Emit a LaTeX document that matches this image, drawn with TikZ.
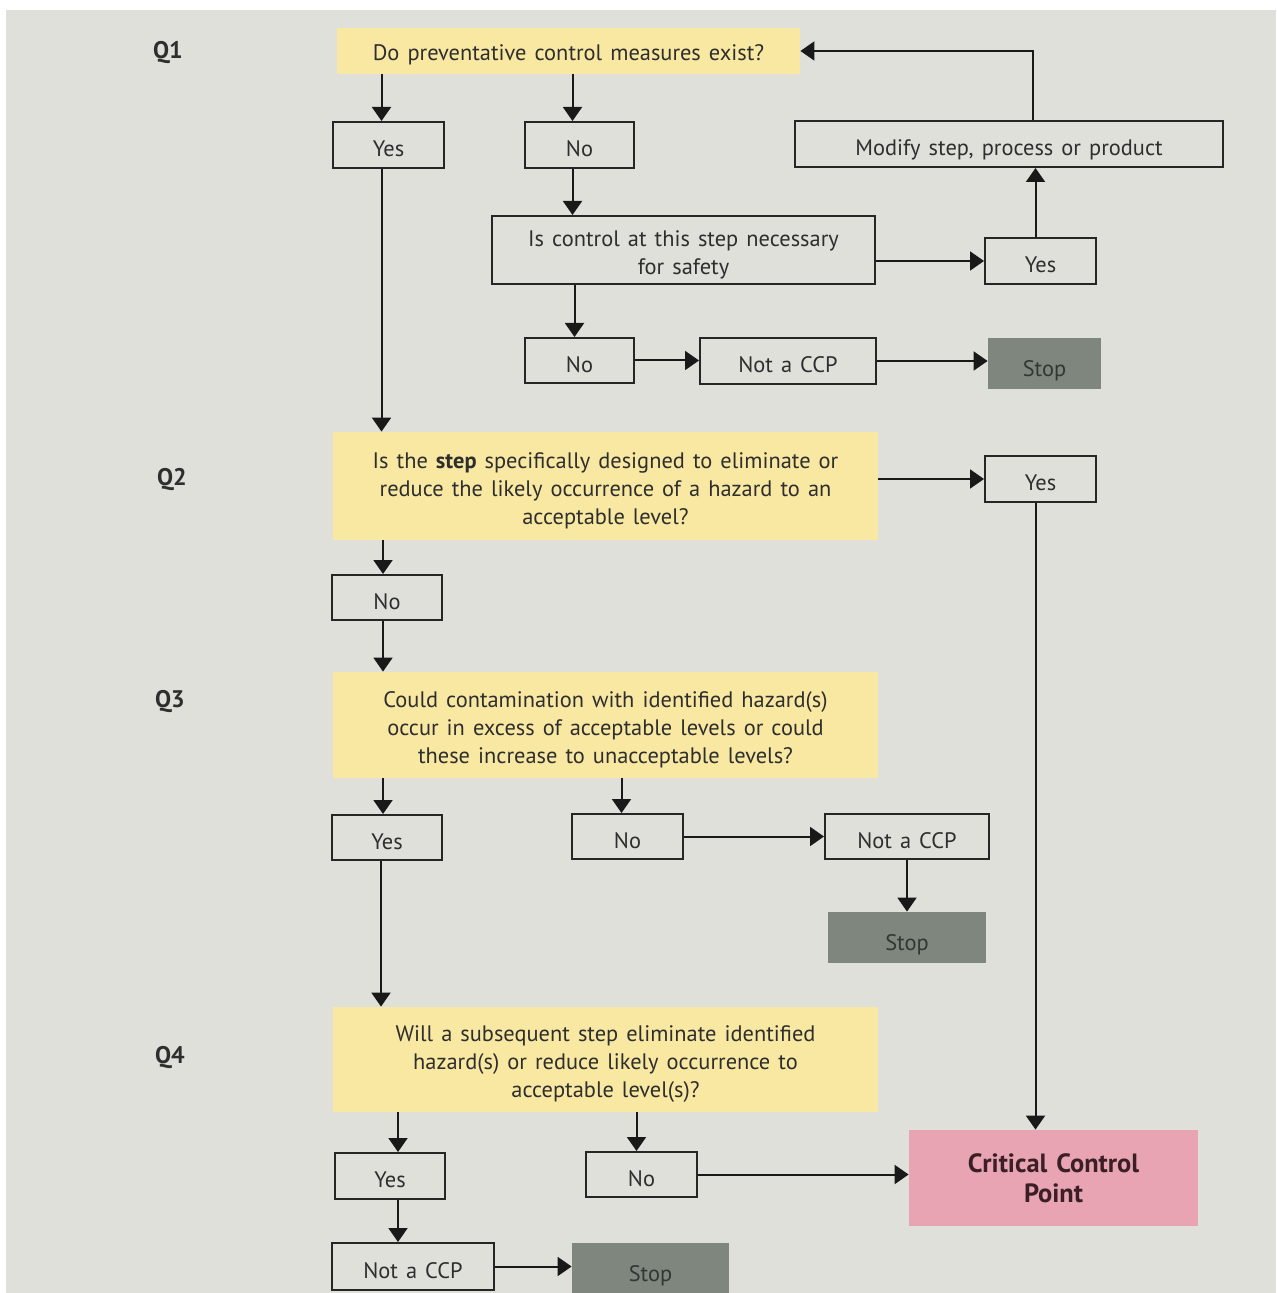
\documentclass[tikz,border=0pt]{standalone}
\usepackage{fontspec}
\setmainfont{PT Sans}[WordSpace=1.35]
\usetikzlibrary{arrows.meta}
\definecolor{bgray}{HTML}{E0E0DB}
\definecolor{qyellow}{HTML}{F8E8A2}
\definecolor{stopgray}{HTML}{7E867E}
\definecolor{ccppink}{HTML}{E8A4B2}
\definecolor{ink}{HTML}{2E2E2E}
\definecolor{stopink}{HTML}{313833}
\definecolor{ccpink}{HTML}{3B1F27}
\tikzset{
  bodyfont/.style={font=\fontsize{11.2}{14}\selectfont},
  % single-line text sits slightly below the box centre
  lowtext/.style={text height=11.6pt, text depth=0pt},
  question/.style={fill=qyellow, draw=none, inner sep=0pt},
  qtext/.style={align=center, inner sep=0pt, bodyfont, text=ink, yshift=-2.5pt},
  answer/.style={draw=black!85, line width=1pt, fill=none, align=center, inner sep=0pt,
    bodyfont, text=ink, lowtext},
  stopbox/.style={fill=stopgray, draw=none, inner sep=0pt, bodyfont, text=stopink,
    text height=13.4pt, text depth=0pt},
  ccpbox/.style={fill=ccppink, draw=none, align=center, inner sep=0pt,
    font=\bfseries\fontsize{13.2}{15}\selectfont, text=ccpink},
  qlabel/.style={font=\bfseries\fontsize{12}{14}\selectfont, text=ink},
  arr/.style={line width=1pt, draw=black!90, -{Triangle[length=7pt,width=9.5pt]}},
}
\begin{document}
\begin{tikzpicture}[x=0.5pt,y=-0.5pt]
  \useasboundingbox (0,0) rectangle (1276,1293);
  \fill[white] (0,0) rectangle (1276,1293);
  \fill[bgray] (6,10) rectangle (1276,1293);

  % question labels
  \node[qlabel] (l1) at (168,53) {Q1};
  \node[qlabel] (l2) at (172,480) {Q2};
  \node[qlabel] (l3) at (170,702) {Q3};
  \node[qlabel] (l4) at (170,1058) {Q4};

  % Q1 branch
  \node[question, minimum width=231.5pt, minimum height=23pt,
        label={[qtext, yshift=0.5pt]center:Do preventative control measures exist?}]
        (q1) at (568.5,51) {};
  \node[answer, minimum width=55.5pt, minimum height=23pt] (yes1) at (388.5,145) {Yes};
  \node[answer, minimum width=54.5pt, minimum height=23pt] (no1) at (579.5,145) {No};
  \node[answer, minimum width=214pt, minimum height=23pt] (modify) at (1009,144)
    {Modify step, process or product};
  \node[draw=black!85, line width=1pt, inner sep=0pt, minimum width=191.5pt, minimum height=34pt,
        label={[qtext]center:Is control at this step necessary\\for safety}]
        (ctrl) at (683.5,250) {};
  \node[answer, minimum width=55.5pt, minimum height=23pt] (yes2) at (1040.5,261) {Yes};
  \node[answer, minimum width=54.5pt, minimum height=22.5pt] (no2) at (579.5,360.5) {No};
  \node[answer, minimum width=88pt, minimum height=23pt] (nccp1) at (788,361) {Not a CCP};
  \node[stopbox, minimum width=56.5pt, minimum height=25.5pt] (stop1) at (1044.5,363.5) {Stop};

  % Q2 branch
  \node[question, minimum width=272.5pt, minimum height=54pt,
        label={[qtext]center:Is the \textbf{step} specifically designed to eliminate or\\
          reduce the likely occurrence of a hazard to an\\acceptable level?}]
        (q2) at (605.5,486) {};
  \node[answer, minimum width=55.5pt, minimum height=23pt] (yes3) at (1040.5,479) {Yes};
  \node[answer, minimum width=55pt, minimum height=22.5pt] (no3) at (387,597.5) {No};

  % Q3 branch
  \node[question, minimum width=272.5pt, minimum height=53pt,
        label={[qtext]center:Could contamination with identified hazard(s)\\
          occur in excess of acceptable levels or could\\these increase to unacceptable levels?}]
        (q3) at (605.5,725) {};
  \node[answer, minimum width=55pt, minimum height=22.5pt] (yes4) at (387,837.5) {Yes};
  \node[answer, minimum width=55.5pt, minimum height=22.5pt] (no4) at (627.5,836.5) {No};
  \node[answer, minimum width=82pt, minimum height=22.5pt] (nccp2) at (907,836.5) {Not a CCP};
  \node[stopbox, minimum width=79pt, minimum height=25.5pt] (stop2) at (907,937.5) {Stop};

  % Q4 branch
  \node[question, minimum width=272.5pt, minimum height=52.5pt,
        label={[qtext]center:Will a subsequent step eliminate identified\\
          hazard(s) or reduce likely occurrence to\\acceptable level(s)?}]
        (q4) at (605.5,1059.5) {};
  \node[answer, minimum width=55pt, minimum height=23pt] (yes5) at (390,1176) {Yes};
  \node[answer, minimum width=55.5pt, minimum height=22.5pt] (no5) at (641.5,1174.5) {No};
  \node[answer, minimum width=81pt, minimum height=23.5pt] (nccp3) at (413,1266.5) {Not a CCP};
  \node[stopbox, minimum width=78.5pt, minimum height=25pt] (stop3) at (650.5,1268) {Stop};
  \node[ccpbox, minimum width=144.5pt, minimum height=48pt] (ccp) at (1053.5,1178)
    {Critical Control\\Point};

  % connectors, Q1
  \draw[arr] ([xshift=-3.5pt]q1.south -| yes1) -- ([xshift=-3.5pt]yes1.north);
  \draw[arr] ([xshift=-3.5pt]q1.south -| no1) -- ([xshift=-3.5pt]no1.north);
  \draw[arr] ([xshift=12pt]modify.north) |- (q1.east);
  \draw[arr] ([xshift=-3.5pt]no1.south) -- ([xshift=-3.5pt]no1.south |- ctrl.north);
  \draw[arr] (yes2.west -| ctrl.east) -- (yes2.west);
  \draw[arr] ([xshift=-2.5pt]yes2.north) -- ([xshift=-2.5pt]yes2.north |- modify.south);
  \draw[arr] ([xshift=-2.5pt]no2.north |- ctrl.south) -- ([xshift=-2.5pt]no2.north);
  \draw[arr] (no2.east) -- (no2.east -| nccp1.west);
  \draw[arr] (nccp1.east) -- (nccp1.east -| stop1.west);

  % connectors, Q2
  \draw[arr] ([xshift=-3.5pt]yes1.south) -- ([xshift=-3.5pt]yes1.south |- q2.north);
  \draw[arr] (yes3.west -| q2.east) -- (yes3.west);
  \draw[arr] ([xshift=-2.5pt]yes3.south) -- ([xshift=-2.5pt]yes3.south |- ccp.north);
  \draw[arr] ([xshift=-2pt]no3.north |- q2.south) -- ([xshift=-2pt]no3.north);
  \draw[arr] ([xshift=-2pt]no3.south) -- ([xshift=-2pt]no3.south |- q3.north);

  % connectors, Q3
  \draw[arr] ([xshift=-2pt]yes4.north |- q3.south) -- ([xshift=-2pt]yes4.north);
  \draw[arr] ([xshift=-3pt]no4.north |- q3.south) -- ([xshift=-3pt]no4.north);
  \draw[arr] (no4.east) -- (no4.east -| nccp2.west);
  \draw[arr] (nccp2.south) -- (stop2.north);
  \draw[arr] ([xshift=-3pt]yes4.south) -- ([xshift=-3pt]yes4.south |- q4.north);

  % connectors, Q4
  \draw[arr] ([xshift=4pt]yes5.north |- q4.south) -- ([xshift=4pt]yes5.north);
  \draw[arr] ([xshift=-2.5pt]no5.north |- q4.south) -- ([xshift=-2.5pt]no5.north);
  \draw[arr] (no5.east) -- (no5.east -| ccp.west);
  \draw[arr] ([xshift=4pt]yes5.south) -- ([xshift=4pt]yes5.south |- nccp3.north);
  \draw[arr] (nccp3.east) -- (nccp3.east -| stop3.west);
\end{tikzpicture}
\end{document}
